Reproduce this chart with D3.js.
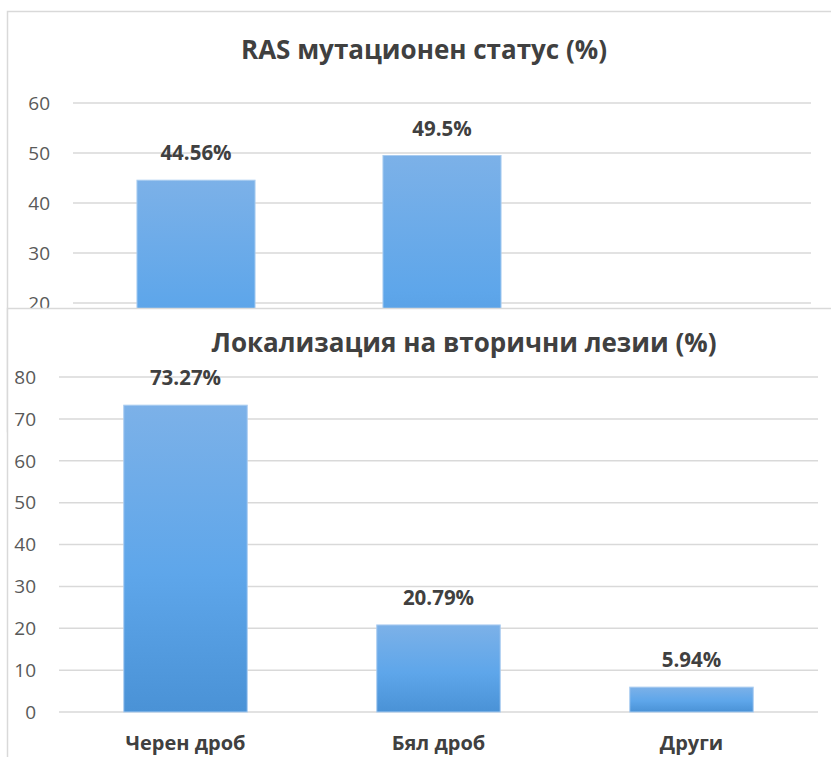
<!DOCTYPE html>
<html>
<head>
<meta charset="utf-8">
<script src="https://cdn.jsdelivr.net/npm/d3@7"></script>
<style>
  body { margin: 0; background: #fff; overflow: hidden; }
  svg { display: block; font-family: "Open Sans", sans-serif; }
</style>
</head>
<body>
<div id="chart"></div>
<script>
// ----------------------
// Data
// ----------------------
const rasCategories = ["a", "b", "c"];
const rasValues = [44.56, 49.5, null];
const rasLabels = ["44.56%", "49.5%", ""];
const rasTicks = [20, 30, 40, 50, 60];

const lesionCategories = ["Черен дроб", "Бял дроб", "Други"];
const lesionValues = [73.27, 20.79, 5.94];
const lesionLabels = ["73.27%", "20.79%", "5.94%"];
const lesionTicks = [0, 10, 20, 30, 40, 50, 60, 70, 80];

const width = 831, height = 757;

const svg = d3.select("#chart")
    .append("svg")
    .attr("width", width)
    .attr("height", height);

// bar gradient (light top, darker bottom)
const grad = svg.append("defs").append("linearGradient")
    .attr("id", "barGrad")
    .attr("x1", 0).attr("y1", 0).attr("x2", 0).attr("y2", 1);
grad.append("stop").attr("offset", "0%").attr("stop-color", "#7cb1e8");
grad.append("stop").attr("offset", "55%").attr("stop-color", "#5ea6ea");
grad.append("stop").attr("offset", "100%").attr("stop-color", "#4a92d6");

// ----------------------
// Draw one bar chart panel
// ----------------------
function drawPanel(cfg) {
    const g = svg.append("g");

    // panel background + border (runs off the right/bottom edge)
    g.append("rect")
        .attr("x", cfg.box[0] + 0.5)
        .attr("y", cfg.box[1] + 0.5)
        .attr("width", cfg.box[2])
        .attr("height", cfg.box[3])
        .attr("fill", "#fff")
        .attr("stroke", "#d9d9d9")
        .attr("stroke-width", 1.5);

    const x = d3.scaleBand()
        .domain(cfg.categories)
        .range(cfg.xRange)
        .paddingInner(cfg.pad)
        .paddingOuter(cfg.pad / 2);

    const y = d3.scaleLinear()
        .domain(cfg.yDomain)
        .range(cfg.yRange);

    // gridlines
    g.selectAll(".grid")
        .data(cfg.ticks)
        .enter()
        .append("line")
        .attr("x1", cfg.xRange[0])
        .attr("x2", cfg.xRange[1])
        .attr("y1", d => y(d))
        .attr("y2", d => y(d))
        .attr("stroke", "#d9d9d9")
        .attr("stroke-width", 1.5);

    // tick labels
    g.selectAll(".tick")
        .data(cfg.ticks)
        .enter()
        .append("text")
        .attr("x", cfg.xRange[0] - 23)
        .attr("y", d => y(d))
        .attr("dy", "0.36em")
        .attr("text-anchor", "end")
        .attr("fill", "#595959")
        .style("font-size", "19px")
        .text(d => d);

    const rows = cfg.categories.map((c, i) => ({ c, v: cfg.values[i], label: cfg.labels[i] }))
        .filter(d => d.v != null);

    // bars
    g.selectAll(".bar")
        .data(rows)
        .enter()
        .append("rect")
        .attr("x", d => x(d.c))
        .attr("y", d => y(d.v))
        .attr("width", x.bandwidth())
        .attr("height", d => y(0) - y(d.v))
        .attr("fill", "url(#barGrad)")
        .attr("stroke", "#a9ccf0")
        .attr("stroke-width", 1);

    // value labels
    g.selectAll(".val")
        .data(rows)
        .enter()
        .append("text")
        .attr("x", d => x(d.c) + x.bandwidth() / 2)
        .attr("y", d => y(d.v) - 20)
        .attr("text-anchor", "middle")
        .attr("fill", "#404040")
        .style("font-size", "20.5px")
        .style("font-weight", "bold")
        .text(d => d.label);

    // category labels
    if (cfg.showCats) {
        g.selectAll(".cat")
            .data(cfg.categories)
            .enter()
            .append("text")
            .attr("x", d => x(d) + x.bandwidth() / 2)
            .attr("y", cfg.catY)
            .attr("text-anchor", "middle")
            .attr("fill", "#404040")
            .style("font-size", "20px")
            .style("font-weight", "bold")
            .text(d => d);
    }

    // title
    g.append("text")
        .attr("x", cfg.titleX)
        .attr("y", cfg.titleY)
        .attr("text-anchor", "middle")
        .attr("fill", "#404040")
        .style("font-size", "26px")
        .style("font-weight", "bold")
        .text(cfg.title);
}

drawPanel({
    box: [7, 11, 1000, 420],
    categories: rasCategories,
    values: rasValues,
    labels: rasLabels,
    ticks: rasTicks,
    xRange: [73, 811],
    pad: 0.52,
    yDomain: [0, 60],
    yRange: [403, 103],
    title: "RAS мутационен статус (%)",
    titleX: 424,
    titleY: 59,
    showCats: false
});

drawPanel({
    box: [7, 308, 1000, 480],
    categories: lesionCategories,
    values: lesionValues,
    labels: lesionLabels,
    ticks: lesionTicks,
    xRange: [59, 818],
    pad: 0.512,
    yDomain: [0, 80],
    yRange: [712, 377],
    title: "Локализация на вторични лезии (%)",
    titleX: 464,
    titleY: 352,
    showCats: true,
    catY: 750
});
</script>
</body>
</html>
